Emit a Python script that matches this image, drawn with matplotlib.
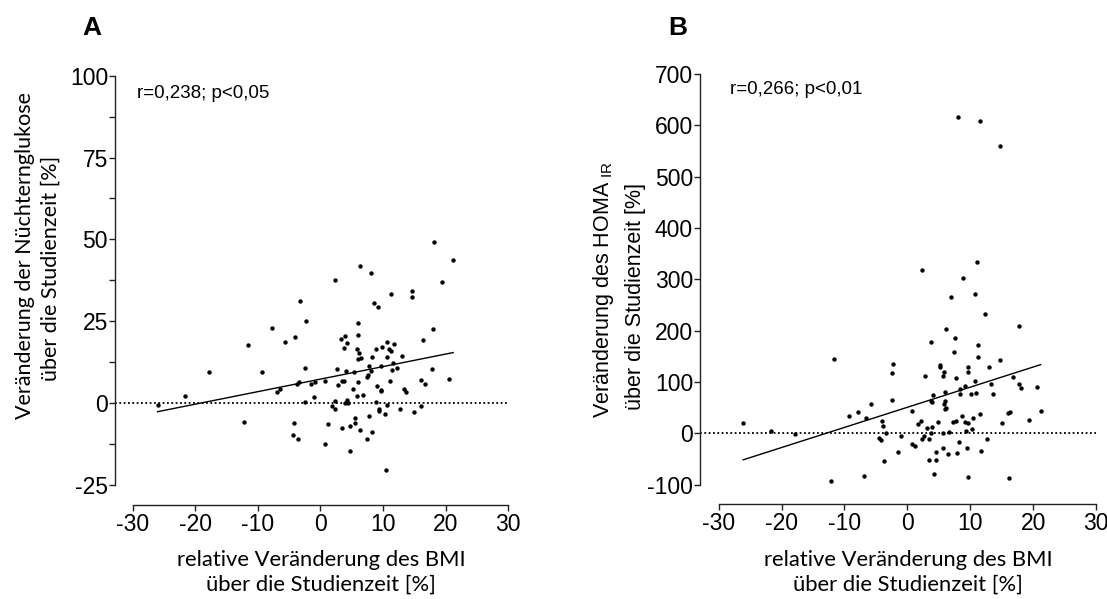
import numpy as np
import matplotlib
matplotlib.use("Agg")
import matplotlib.pyplot as plt

plt.rcParams['font.family'] = ['Liberation Sans', 'DejaVu Sans']
plt.rcParams['mathtext.fontset'] = 'custom'
plt.rcParams['mathtext.rm'] = 'Liberation Sans'
plt.rcParams['axes.unicode_minus'] = False

# ---------------- Panel A: BMI change vs fasting glucose change ----------------
bmi_a = [-26.0, -21.6, -17.8, -11.5, -12.2, -9.3, -7.7, -5.7, -4.0, -3.3, -2.3, -6.9, -6.5,
         -3.8, -3.4, -2.4, -1.5, -0.9, -1.1, -2.4, -4.2, -4.4, -3.6,
         18.1, 21.2, 6.3, 8.0, 2.3, 19.4, 14.7, 14.7, 11.3, 8.5, 9.2, 6.0, 6.0, 17.9, 16.3,
         3.3, 3.9, 4.2, 3.7, 10.7, 11.7, 9.8, 8.9, 11.0, 11.3, 5.9, 6.2, 6.0, 6.5, 8.3, 10.7,
         13.0, 11.6, 7.8, 9.6, 12.3, 11.5, 17.8, 2.6, 4.1, 5.4, 8.0, 7.6, 7.4, 3.5, 3.8, 0.7,
         6.0, 11.1, 20.6, 16.1, 16.7, 2.8, 9.1, 5.2, 9.7, 9.6, 13.3, 13.7, 6.8, 5.8, 2.3, 4.0,
         4.3, 4.4, 8.8, 10.6, 1.8, 2.3, 9.4, 9.3, 10.3, 12.7, 15.0, 16.1, 7.8, 1.2, 5.6, 5.6,
         3.5, 4.7, 6.4, 8.2, 7.4, 0.8, 4.8, 10.4]
glu_a = [-0.6, 2.1, 9.6, 17.9, -5.8, 9.6, 23.0, 18.8, 20.3, 31.1, 25.0, 3.5, 4.3,
         6.0, 6.4, 10.6, 6.0, 6.5, 2.0, 0.3, -6.2, -9.7, -10.9,
         49.3, 43.7, 42.0, 39.6, 37.5, 37.1, 34.3, 32.5, 33.4, 30.5, 29.5, 24.6, 20.9, 22.6, 19.2,
         19.5, 20.5, 18.5, 16.7, 18.7, 18.1, 17.2, 16.5, 16.4, 16.0, 16.6, 15.4, 13.4, 13.9, 14.1, 14.2,
         14.3, 12.4, 11.4, 11.3, 10.6, 10.0, 10.5, 10.3, 9.7, 9.4, 9.7, 8.7, 8.0, 6.9, 6.9, 6.9,
         6.4, 6.7, 7.5, 7.1, 6.0, 5.4, 5.3, 4.2, 4.1, 3.7, 4.2, 3.4, 2.6, 2.1, 0.7, 0.2,
         0.9, 0.1, 0.5, -0.5, -0.8, -1.8, -1.8, -2.3, -3.2, -1.8, -2.8, -0.9, -3.9, -6.4, -4.5, -6.1,
         -7.6, -7.1, -8.2, -8.9, -11.0, -12.5, -14.5, -20.5]

# ---------------- Panel B: BMI change vs HOMA-IR change ----------------
bmi_b = [-26.1, -21.7, -17.8, -11.6, -12.2, -9.3, -7.8, -6.5, -5.8, -6.9, -2.5, -2.3, -2.5,
         -4.1, -3.8, -3.4, -4.5, -4.2, -1.0, -1.5, -3.7,
         8.0, 11.6, 14.7, 11.0, 2.3, 8.9, 6.9, 10.8, 12.3, 6.2, 17.8, 7.6, 3.8, 11.2, 7.4, 11.2,
         14.7, 5.2, 5.2, 9.7, 13.0, 5.9, 9.6, 2.8, 5.7, 7.8, 16.8, 10.7, 13.3, 17.8, 18.1, 20.6,
         9.2, 8.3, 8.4, 10.2, 10.9, 13.7, 6.0, 4.1, 3.7, 4.0, 6.0, 5.9, 6.1, 6.0, 0.8, 8.7,
         11.5, 10.5, 16.0, 16.3, 21.2, 15.0, 19.4, 1.7, 2.2, 4.8, 7.3, 7.7, 9.1, 9.6, 3.2, 3.9,
         10.3, 6.6, 5.6, 3.7, 9.3, 2.6, 2.3, 3.5, 8.2, 0.7, 1.2, 12.6, 5.6, 9.5, 4.6, 6.4,
         7.9, 11.7, 3.5, 4.5, 4.2, 9.7, 16.1]
homa_b = [19.3, 4.9, -2.2, 144.6, -93.8, 33.5, 41.3, 28.8, 57.5, -82.8, 64.7, 134.9, 116.7,
          23.8, 14.6, 1.0, -10.1, -13.4, -4.9, -37.4, -55.0,
          617.0, 608.0, 559.8, 334.3, 318.7, 301.9, 264.9, 271.3, 232.4, 203.7, 209.0, 185.6, 177.2,
          171.9, 158.3, 149.1, 142.7, 132.9, 128.4, 128.4, 128.4, 119.9, 118.6, 110.8, 110.8, 107.6,
          108.9, 102.4, 96.6, 95.3, 88.1, 89.4, 91.4, 85.5, 77.0, 75.8, 78.4, 75.8, 80.9, 73.8,
          62.8, 60.2, 63.4, 56.9, 48.5, 46.6, 43.9, 34.1, 38.0, 29.6, 40.0, 40.7, 43.3, 19.3,
          26.3, 17.9, 24.4, 22.4, 21.8, 24.4, 21.2, 19.3, 10.7, 12.7, 8.8, 2.9, 1.0, 0.4, 3.7,
          -5.5, -10.6, -11.3, -16.5, -21.1, -24.3, -11.9, -28.2, -28.2, -37.3, -40.5, -38.0,
          -35.3, -52.2, -52.9, -78.9, -85.4, -88.0]

xticks = [-30, -20, -10, 0, 10, 20, 30]
yticks_a = [-25, 0, 25, 50, 75, 100]
yticks_b = [-100, 0, 100, 200, 300, 400, 500, 600, 700]
stats_a = "r=0,238; p<0,05"
stats_b = "r=0,266; p<0,01"
xlabel = "relative Veränderung des BMI\nüber die Studienzeit [%]"

W, H = 1107, 599
fig = plt.figure(figsize=(W / 100, H / 100), dpi=100)


def box(l, r, t, b):
    return [l / W, 1 - b / H, (r - l) / W, (b - t) / H]


axA = fig.add_axes(box(115, 508.3, 75.7, 505))
axB = fig.add_axes(box(700, 1096, 74.1, 504))


def style(ax, xlo, ylo, yhi, yticks, minor=None):
    ax.set_xlim(xlo, 30)
    ax.set_ylim(ylo, yhi)
    for s in ('top', 'right'):
        ax.spines[s].set_visible(False)
    ax.spines['left'].set_bounds(yticks[0], yticks[-1])
    ax.spines['bottom'].set_bounds(-30, 30)
    for s in ('left', 'bottom'):
        ax.spines[s].set_linewidth(1.0)
        ax.spines[s].set_color('#222222')
    ax.set_xticks(xticks)
    ax.set_yticks(yticks)
    if minor is not None:
        ax.set_yticks(minor, minor=True)
    ax.tick_params(axis='both', which='both', direction='out', length=4, width=1.0,
                   color='#222222', labelsize=16.5, pad=1)
    ax.tick_params(axis='x', pad=2)
    ax.hlines(0, xlo, 30, colors='black', linestyles=(0, (1, 1.4)), linewidth=1.3)


def scatter_fit(ax, x, y):
    x = np.asarray(x)
    y = np.asarray(y)
    ax.scatter(x, y, s=10, color='black', linewidths=0, zorder=3, clip_on=False)
    k, d = np.polyfit(x, y, 1)
    xs = np.array([x.min(), x.max()])
    ax.plot(xs, k * xs + d, color='black', linewidth=1.0, zorder=2)


style(axA, -32.8, -31.1, 100, yticks_a, minor=[-12.5, 12.5, 37.5, 62.5, 87.5])
scatter_fit(axA, bmi_a, glu_a)
axA.text(-29.3, 94.5, stats_a, fontsize=13.5, ha='left', va='center')

style(axB, -32.97, -138, 700, yticks_b)
scatter_fit(axB, bmi_b, homa_b)
axB.text(-28.2, 670, stats_b, fontsize=13.5, ha='left', va='center')

# panel letters
fig.text(92 / W, 1 - 28 / H, "A", fontsize=19, fontweight='bold', ha='center', va='center')
fig.text(678 / W, 1 - 28 / H, "B", fontsize=19, fontweight='bold', ha='center', va='center')

# x labels
for xc in (321, 908):
    fig.text(xc / W, 1 - 572 / H, xlabel, fontsize=15.8, family=['Lato', 'DejaVu Sans'],
             ha='center', va='center', multialignment='center', linespacing=1.3)

# y labels
fig.text(25 / W, 1 - 255 / H, "Veränderung der Nüchternglukose", fontsize=15.5,
         family=['Lato', 'DejaVu Sans'], rotation=90, ha='center', va='center')
fig.text(51 / W, 1 - 268 / H, "über die Studienzeit [%]", fontsize=15.5,
         family=['Lato', 'DejaVu Sans'], rotation=90, ha='center', va='center')
fig.text(603 / W, 1 - 290 / H, "Veränderung des HOMA$_{\\ \\mathrm{IR}}$", fontsize=15.5,
         rotation=90, ha='center', va='center')
fig.text(635 / W, 1 - 297 / H, "über die Studienzeit [%]", fontsize=15.5,
         rotation=90, ha='center', va='center')

fig.savefig("out.png", dpi=100)
